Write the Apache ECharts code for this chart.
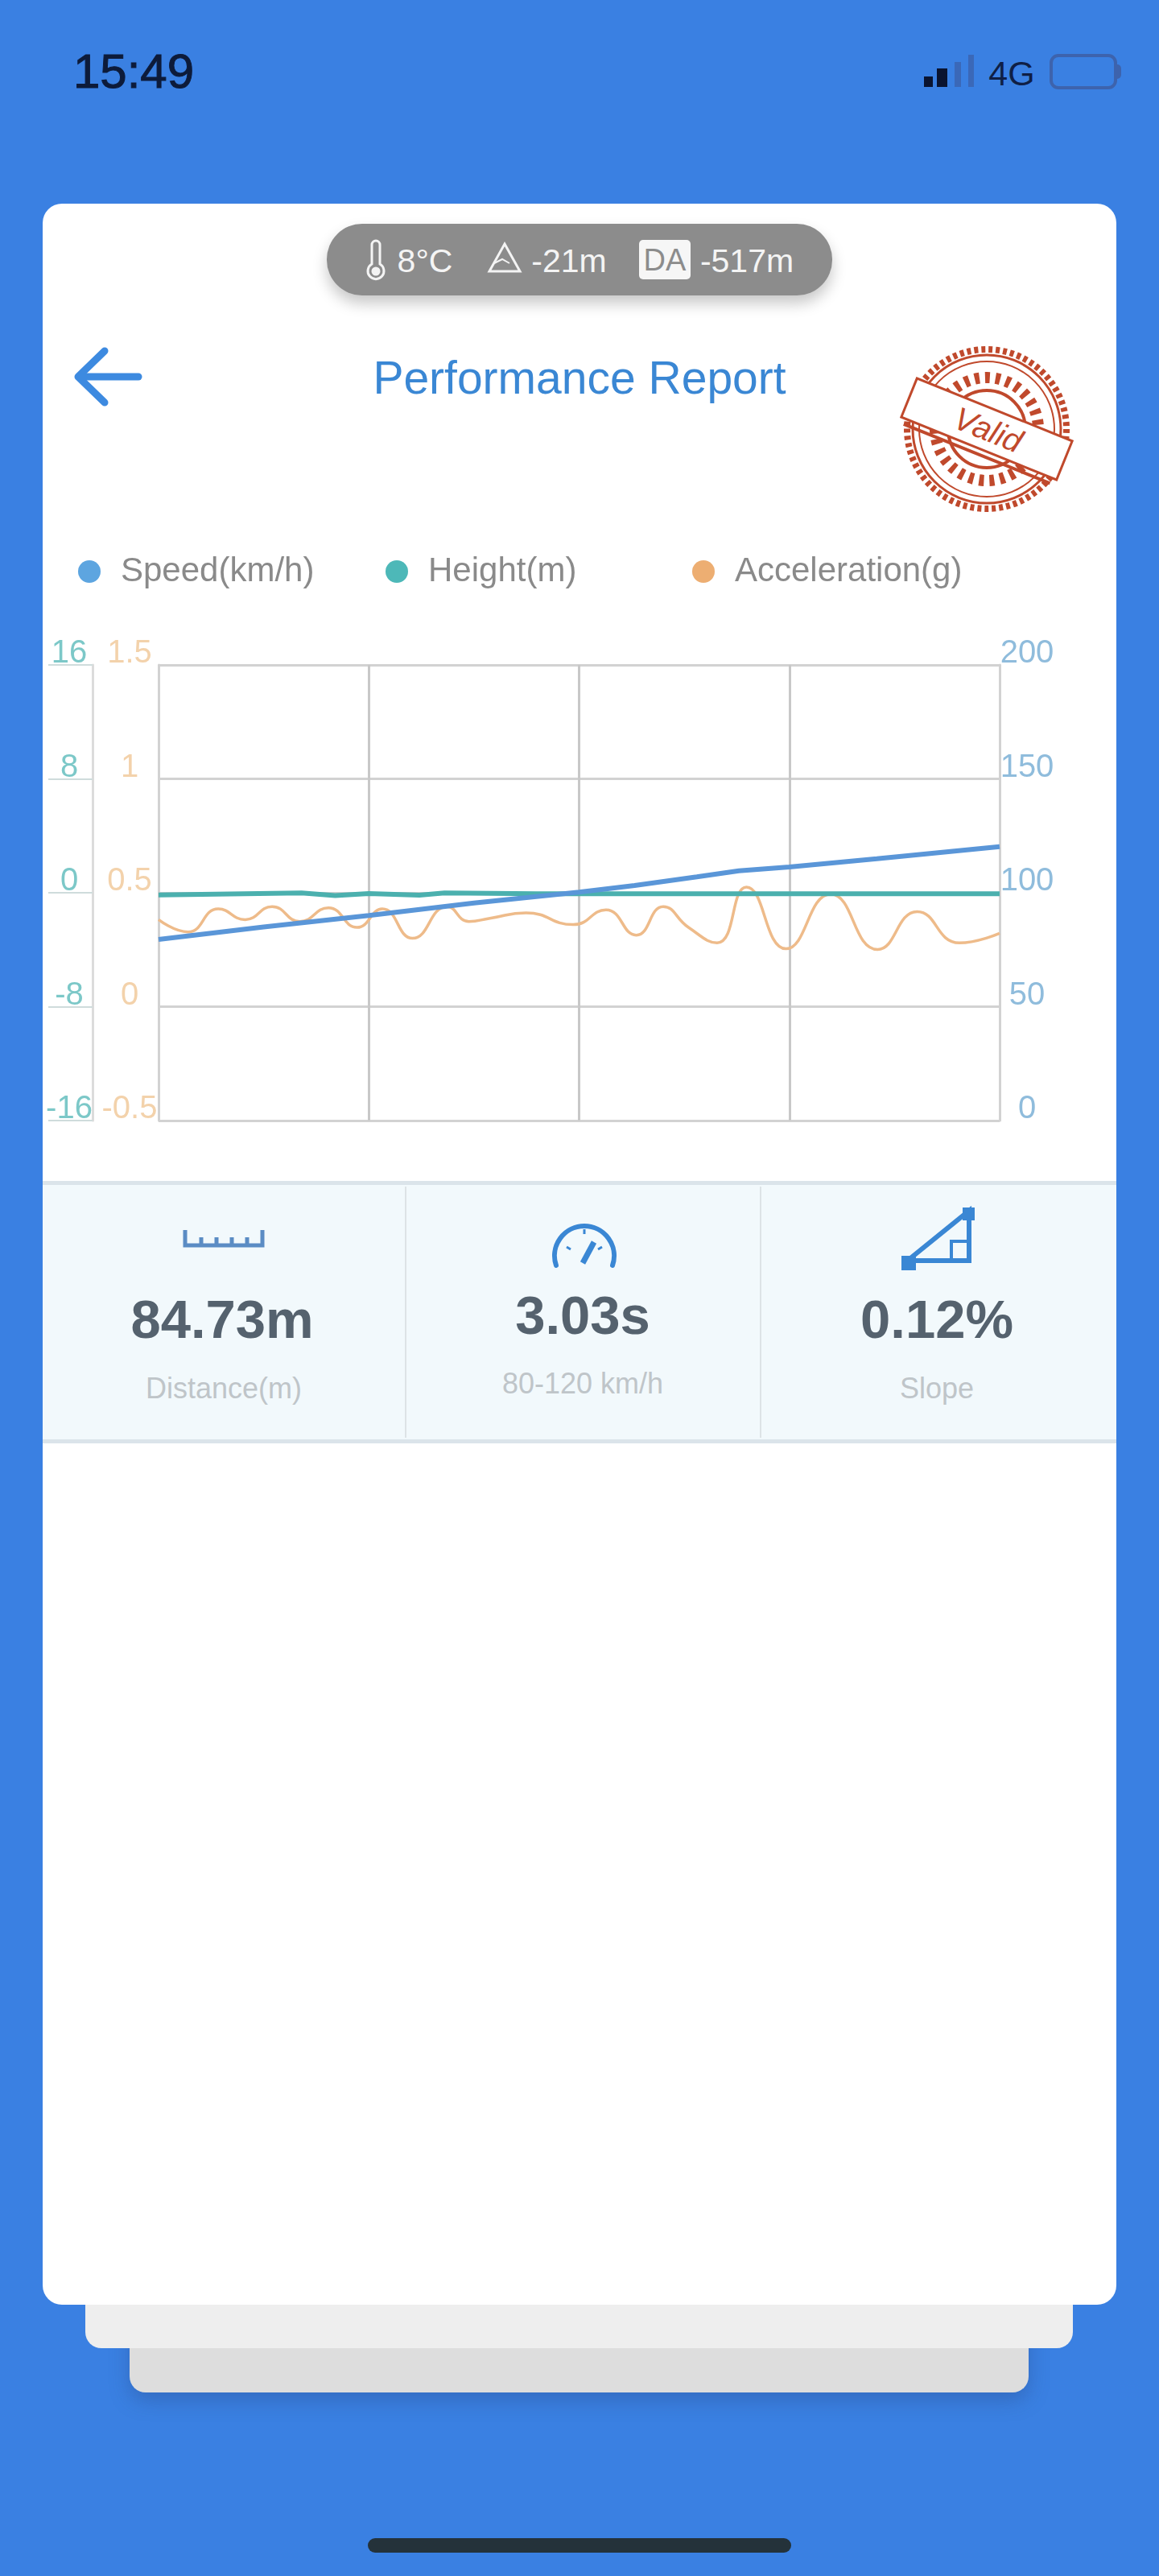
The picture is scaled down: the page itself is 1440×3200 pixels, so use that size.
<!DOCTYPE html>
<html>
<head>
<meta charset="utf-8">
<title>Performance Report</title>
<script src="https://cdn.jsdelivr.net/npm/echarts@6/dist/echarts.min.js"></script>
<style>
    html, body { margin: 0; padding: 0; }
    body { width: 1440px; height: 3200px; background: #3a80e2; position: relative; overflow: hidden; font-family: "Liberation Sans", Arial, sans-serif; }
    .box { position: absolute; box-sizing: border-box; }
    .t { position: absolute; white-space: nowrap; transform: translate(-50%, -50%); line-height: 1; }
    .val { font-size: 67px; font-weight: bold; color: #55626e; }
    .sub { font-size: 36px; color: #bfc5c9; }
    .pillText { font-size: 41px; color: #f4f4f4; }
    svg { position: absolute; overflow: visible; }
</style>
</head>
<body>
<!-- status bar -->
<div class="t" style="left:166px;top:89px;font-size:60px;color:#0d1b3a;-webkit-text-stroke:1px #0d1b3a">15:49</div>
<div class="box" style="left:1148px;top:95px;width:11px;height:13px;background:#0a1430"></div>
<div class="box" style="left:1164px;top:85px;width:13px;height:23px;background:#0a1430"></div>
<div class="box" style="left:1186px;top:77px;width:8px;height:31px;background:#3a68b8"></div>
<div class="box" style="left:1203px;top:68px;width:7px;height:40px;background:#3a68b8"></div>
<div class="t" style="left:1257px;top:91px;font-size:43px;color:#0f1f45">4G</div>
<div class="box" style="left:1304px;top:67px;width:84px;height:44px;border:4px solid #3d63ad;border-radius:11px"></div>
<div class="box" style="left:1388px;top:80px;width:5px;height:18px;background:#3d63ad;border-radius:0 5px 5px 0"></div>

<!-- stacked cards -->
<div class="box" style="left:161px;top:2800px;width:1117px;height:172px;background:#dddddd;border-radius:0 0 20px 20px;box-shadow:0 10px 24px rgba(40,70,130,.35)"></div>
<div class="box" style="left:106px;top:2750px;width:1227px;height:167px;background:#eeeeee;border-radius:0 0 20px 20px"></div>
<div class="box" style="left:53px;top:253px;width:1334px;height:2610px;background:#fff;border-radius:24px"></div>

<!-- weather pill -->
<div class="box" style="left:406px;top:278px;width:628px;height:89px;background:#8c8c8c;border-radius:44px;box-shadow:0 10px 18px rgba(0,0,0,.22)"></div>
<svg style="left:455px;top:296px" width="24" height="54" fill="none" stroke="#f4f4f4" stroke-width="3">
    <path d="M7 32V8a5 5 0 0 1 10 0v24a10 10 0 1 1-10 0z"/>
    <circle cx="12" cy="41" r="4" fill="#f4f4f4"/>
</svg>
<div class="t pillText" style="left:528px;top:324px">8°C</div>
<svg style="left:606px;top:300px" width="42" height="40" fill="none" stroke="#f4f4f4" stroke-width="3">
    <path d="M21 3L40 37H2z"/><path d="M8 27L18 22L27 27" stroke-width="2"/>
</svg>
<div class="t pillText" style="left:707px;top:324px">-21m</div>
<div class="box" style="left:794px;top:298px;width:64px;height:49px;background:#f6f6f6;border-radius:5px"></div>
<div class="t" style="left:826px;top:323px;font-size:38px;color:#8c8c8c">DA</div>
<div class="t pillText" style="left:928px;top:324px">-517m</div>

<!-- header -->
<svg style="left:90px;top:430px" width="88" height="76" fill="none" stroke="#3d8ae0" stroke-width="9" stroke-linecap="round" stroke-linejoin="round">
    <path d="M40 6L7 38L40 70"/><path d="M8 38H82"/>
</svg>
<div class="t" style="left:720px;top:469px;font-size:57px;color:#3a87d4">Performance Report</div>
<svg style="left:1120px;top:428px" width="212" height="210" viewBox="-106 -105 212 210" fill="none" stroke="#c0492c">
    <circle r="99" stroke-width="8" stroke-dasharray="5 4"/>
    <circle r="92" stroke-width="3"/>
    <circle r="84" stroke-width="2"/>
    <circle r="64" stroke-width="14" stroke-dasharray="6 7"/>
    <circle r="48" stroke-width="4"/>
    <g transform="rotate(22)">
        <rect x="-104" y="-26" width="208" height="52" fill="#fff" stroke-width="3"/>
        <path d="M-98 33H98" stroke-width="4"/>
        <text x="2" y="14" text-anchor="middle" fill="#c0492c" stroke="none" font-family="Liberation Sans" font-style="italic" font-size="40">Valid</text>
    </g>
</svg>

<!-- chart -->
<div id="chart01" class="box" style="left:0;top:640px;width:1440px;height:800px"></div>

<!-- stats panel -->
<div class="box" style="left:53px;top:1467px;width:1334px;height:326px;background:#f2f9fc;border-top:5px solid #dbe4ea;border-bottom:5px solid #dbe4ea"></div>
<div class="box" style="left:503px;top:1474px;width:2px;height:312px;background:#dde3e6"></div>
<div class="box" style="left:944px;top:1474px;width:2px;height:312px;background:#dde3e6"></div>
<svg style="left:228px;top:1528px" width="100" height="22" fill="none" stroke="#5b8cc4" stroke-width="5">
    <path d="M2 0V19H98V0M22 9V19M41 9V19M60 9V19M79 9V19"/>
</svg>
<svg style="left:684px;top:1515px" width="84" height="58" fill="none" stroke="#3a87d4" stroke-width="6">
    <path d="M7 57A37 37 0 1 1 77 57" stroke-linecap="round"/>
    <path d="M40 54L54 28" stroke-width="7"/>
    <path d="M20 34L25 37M42 12V18M64 34L59 37" stroke-width="3"/>
</svg>
<svg style="left:1120px;top:1500px" width="92" height="78" fill="none" stroke="#3a87d4" stroke-width="6">
    <path d="M5 68L84 4V66H5" stroke-width="6"/>
    <rect x="0" y="60" width="18" height="18" fill="#3a87d4" stroke="none"/>
    <rect x="76" y="0" width="15" height="16" fill="#3a87d4" stroke="none"/>
    <path d="M62 66V42H84" stroke-width="4"/>
</svg>
<div class="t val" style="left:276px;top:1638px">84.73m</div>
<div class="t val" style="left:724px;top:1633px">3.03s</div>
<div class="t val" style="left:1164px;top:1638px">0.12%</div>
<div class="t sub" style="left:278px;top:1725px">Distance(m)</div>
<div class="t sub" style="left:724px;top:1719px">80-120 km/h</div>
<div class="t sub" style="left:1164px;top:1725px">Slope</div>

<!-- home indicator -->
<div class="box" style="left:457px;top:3153px;width:526px;height:18px;background:#24323a;border-radius:9px"></div>

<script>
    // 图例
    var speedName = 'Speed(km/h)';
    var heightName = 'Height(m)';
    var accName = 'Acceleration(g)';

    // 读图数据 x: 0-100
    var speedX = [0, 12.5, 25, 37.5, 50, 56.6, 64, 69, 75, 85.4, 100];
    var speedY = [79.5, 85, 90, 95.5, 100.3, 103.2, 107, 109.6, 111.3, 114.9, 120.2];

    var heightX = [0, 17, 21, 25, 31, 34, 45, 60, 80, 100];
    var heightY = [-0.15, -0.02, -0.2, -0.05, -0.17, -0.02, -0.07, -0.07, -0.07, -0.07];

    var accX = [0, 3.5, 7.1, 10.3, 13.5, 16.8, 20.2, 23.6, 26.6, 30.2, 34.3, 36.9, 39.4, 43.7, 49.3,
        53.2, 56.8, 60, 63, 66.4, 69.9, 74.6, 79.9, 85.5, 90.2, 95.2, 100];
    var accY = [0.382, 0.328, 0.429, 0.382, 0.439, 0.374, 0.434, 0.348, 0.429, 0.3, 0.439, 0.374, 0.388, 0.412, 0.36,
        0.425, 0.314, 0.439, 0.348, 0.28, 0.525, 0.254, 0.494, 0.251, 0.417, 0.28, 0.322];

    function pairs(xs, ys) {
        var arr = [];
        for (var i = 0; i < xs.length; i++) {
            arr.push([xs[i], ys[i]]);
        }
        return arr;
    }

    function legendItem(name, left) {
        return {
            left: left,
            top: 44,
            data: [name],
            icon: 'circle',
            itemWidth: 28,
            itemHeight: 28,
            selectedMode: false,
            textStyle: {
                fontFamily: 'Liberation Sans',
                fontSize: 42,
                color: '#8a8a8a',
                padding: [0, 0, 0, 20]
            }
        };
    }

    function tickLabel(color, margin) {
        return {
            fontFamily: 'Liberation Sans',
            fontSize: 40,
            lineHeight: 28,
            color: color,
            align: 'center',
            verticalAlign: 'bottom',
            margin: margin
        };
    }

    var gridColor = '#d2d2d2';
    var chart01 = echarts.init(document.getElementById('chart01'));
    var option = {
        animation: false,
        color: ['#5da5e0', '#4db8b8', '#edae72'],
        legend: [
            legendItem(speedName, 92),
            legendItem(heightName, 474),
            legendItem(accName, 855)
        ],
        grid: {
            left: 197,
            right: 198,
            top: 186,
            bottom: 48
        },
        xAxis: {
            type: 'value',
            min: 0,
            max: 100,
            interval: 25,
            axisLine: {show: false},
            axisTick: {show: false},
            axisLabel: {show: false},
            splitLine: {lineStyle: {color: '#c8c8c8', width: 3}}
        },
        yAxis: [
            {
                // 加速度
                type: 'value',
                position: 'left',
                min: -0.5,
                max: 1.5,
                interval: 0.5,
                axisLine: {show: true, lineStyle: {color: gridColor, width: 3}},
                axisTick: {show: false},
                axisLabel: tickLabel('#f3d2ab', 36),
                splitLine: {show: true, lineStyle: {color: gridColor, width: 3}}
            },
            {
                // 高度
                type: 'value',
                position: 'left',
                offset: 82,
                min: -16,
                max: 16,
                interval: 8,
                axisLine: {show: true, lineStyle: {color: '#dcdcdc', width: 3}},
                axisTick: {show: true, length: 55, lineStyle: {color: '#cfdcdc', width: 2}},
                axisLabel: tickLabel('#7cc8c8', 29),
                splitLine: {show: false}
            },
            {
                // 速度
                type: 'value',
                position: 'right',
                min: 0,
                max: 200,
                interval: 50,
                axisLine: {show: true, lineStyle: {color: gridColor, width: 3}},
                axisTick: {show: false},
                axisLabel: tickLabel('#8fbcdc', 34),
                splitLine: {show: false}
            }
        ],
        series: [
            {
                name: accName,
                type: 'line',
                yAxisIndex: 0,
                z: 2,
                smooth: 0.5,
                showSymbol: false,
                itemStyle: {color: '#edae72'},
                lineStyle: {color: '#eebb8a', width: 3.5},
                data: pairs(accX, accY)
            },
            {
                name: heightName,
                type: 'line',
                yAxisIndex: 1,
                z: 3,
                showSymbol: false,
                itemStyle: {color: '#4db8b8'},
                lineStyle: {color: '#4bb0ae', width: 6},
                data: pairs(heightX, heightY)
            },
            {
                name: speedName,
                type: 'line',
                yAxisIndex: 2,
                z: 4,
                showSymbol: false,
                itemStyle: {color: '#5da5e0'},
                lineStyle: {color: '#5a96d8', width: 6},
                data: pairs(speedX, speedY)
            }
        ]
    };
    chart01.setOption(option);
</script>
</body>
</html>
